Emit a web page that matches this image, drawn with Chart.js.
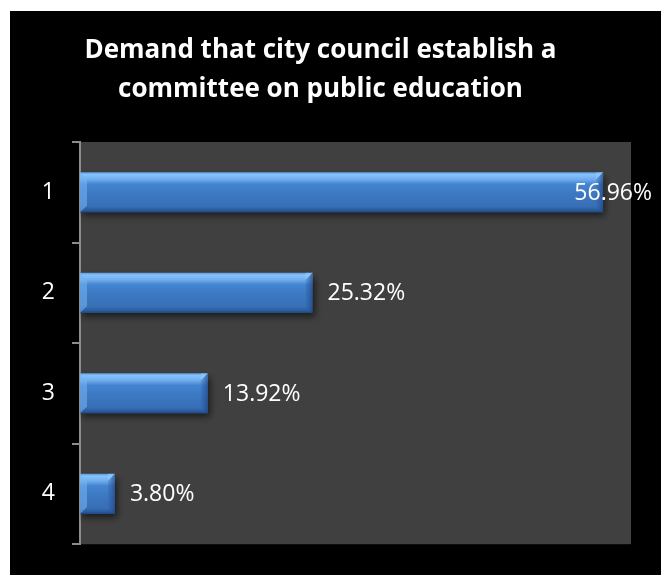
<!DOCTYPE html>
<html>
<head>
<meta charset="utf-8">
<script src="https://cdn.jsdelivr.net/npm/chart.js@4.4.1/dist/chart.umd.min.js"></script>
<style>
  html, body { margin: 0; padding: 0; background: #fff; overflow: hidden; width: 666px; height: 575px; }
  #frame { position: absolute; left: 10px; top: 11px; width: 651px; height: 564px; background: #000; }
  canvas { display: block; }
</style>
</head>
<body>
<div id="frame"><canvas id="chart" width="651" height="564"></canvas></div>
<script>
const titleLines = ['Demand that city council establish a', 'committee on public education'];
const categories = ['1', '2', '3', '4'];
const shares = [56.96, 25.32, 13.92, 3.80];

const labelFont = '23px "Open Sans"';
const BAR_FRACTION = 0.4;

// dark grey plot background behind the bars
const plotBackground = {
  id: 'plotBackground',
  beforeDraw(chart) {
    const { ctx, chartArea: a } = chart;
    ctx.save();
    ctx.fillStyle = '#404040';
    ctx.fillRect(a.left, a.top, a.right - a.left, a.bottom - a.top);
    ctx.restore();
  }
};

// soft drop shadow under each bar
const barShadow = {
  id: 'barShadow',
  beforeDatasetsDraw(chart) {
    const ctx = chart.ctx;
    ctx.save();
    ctx.shadowColor = 'rgba(0,0,0,0.6)';
    ctx.shadowBlur = 7;
    ctx.shadowOffsetX = 2;
    ctx.shadowOffsetY = 4;
  },
  afterDatasetsDraw(chart) {
    chart.ctx.restore();
  }
};

// bevelled ends: light top-left corner, shaded right end
const barBevel = {
  id: 'barBevel',
  afterDatasetsDraw(chart) {
    const ctx = chart.ctx;
    chart.getDatasetMeta(0).data.forEach(bar => {
      const top = bar.y - bar.height / 2;
      const bottom = bar.y + bar.height / 2;
      const left = bar.base;
      const right = bar.x;
      const b = Math.min(7, (right - left) / 3);
      ctx.save();
      // left bevel
      ctx.fillStyle = 'rgba(120,180,240,0.55)';
      ctx.beginPath();
      ctx.moveTo(left, top);
      ctx.lineTo(left + b, top + b);
      ctx.lineTo(left + b, bottom - b);
      ctx.lineTo(left, bottom);
      ctx.closePath();
      ctx.fill();
      // right bevel
      const g = ctx.createLinearGradient(right - b, 0, right, 0);
      g.addColorStop(0, 'rgba(40,90,160,0.2)');
      g.addColorStop(1, 'rgba(30,70,130,0.75)');
      ctx.fillStyle = g;
      ctx.beginPath();
      ctx.moveTo(right, top);
      ctx.lineTo(right - b, top + b);
      ctx.lineTo(right - b, bottom - b);
      ctx.lineTo(right, bottom);
      ctx.closePath();
      ctx.fill();
      ctx.fillStyle = 'rgba(150,205,255,0.5)';
      ctx.beginPath();
      ctx.moveTo(right, top);
      ctx.lineTo(right - b, top + b);
      ctx.lineTo(right - b, top);
      ctx.closePath();
      ctx.fill();
      ctx.restore();
    });
  }
};

// percentage labels at the end of each bar, kept inside the frame
const valueLabels = {
  id: 'valueLabels',
  afterDatasetsDraw(chart) {
    const ctx = chart.ctx;
    const meta = chart.getDatasetMeta(0);
    ctx.save();
    ctx.font = labelFont;
    ctx.fillStyle = '#fff';
    ctx.textBaseline = 'middle';
    meta.data.forEach((bar, i) => {
      const text = shares[i].toFixed(2) + '%';
      const w = ctx.measureText(text).width;
      let x = bar.x + 15;
      if (x + w > chart.width - 9) x = chart.width - 9 - w;
      ctx.fillText(text, x, bar.y + 1);
    });
    ctx.restore();
  }
};

// vertical gradient for each bar, placed from the category scale
function barFill(context) {
  const chart = context.chart;
  const yScale = chart.scales.y;
  if (!yScale || !chart.chartArea) return '#3c78c0';
  const thickness = (yScale.height / categories.length) * BAR_FRACTION;
  const top = yScale.getPixelForValue(context.dataIndex) - thickness / 2;
  const g = chart.ctx.createLinearGradient(0, top, 0, top + thickness);
  g.addColorStop(0, '#5b9be2');
  g.addColorStop(0.06, '#86c2fa');
  g.addColorStop(0.18, '#6eaced');
  g.addColorStop(0.3, '#4384d0');
  g.addColorStop(0.55, '#3c78c2');
  g.addColorStop(0.85, '#386fb6');
  g.addColorStop(0.94, '#2b5c9c');
  g.addColorStop(1, '#1f4780');
  return g;
}

new Chart(document.getElementById('chart'), {
  type: 'bar',
  data: {
    labels: categories,
    datasets: [{
      data: shares,
      backgroundColor: barFill,
      borderWidth: 0,
      barPercentage: 0.8,
      categoryPercentage: BAR_FRACTION / 0.8
    }]
  },
  plugins: [plotBackground, barShadow, barBevel, valueLabels],
  options: {
    indexAxis: 'y',
    responsive: false,
    animation: false,
    events: [],
    layout: { padding: { left: 0, right: 30, top: 0, bottom: 20 } },
    plugins: {
      legend: { display: false },
      tooltip: { enabled: false },
      title: {
        display: true,
        text: titleLines,
        color: '#fff',
        font: { family: '"Open Sans"', size: 26, weight: 'bold', lineHeight: 1.5 },
        padding: { top: 20, bottom: 33 }
      }
    },
    scales: {
      x: {
        display: false,
        min: 0,
        max: 60
      },
      y: {
        afterFit(scale) { scale.width = 70; },
        border: { display: true, color: '#8c8c8c', width: 2 },
        grid: {
          offset: true,
          drawOnChartArea: false,
          drawTicks: true,
          tickLength: 8,
          color: '#8c8c8c',
          lineWidth: 2
        },
        ticks: {
          color: '#fff',
          font: { family: '"Open Sans"', size: 23 },
          padding: 17
        }
      }
    }
  }
});
</script>
</body>
</html>
